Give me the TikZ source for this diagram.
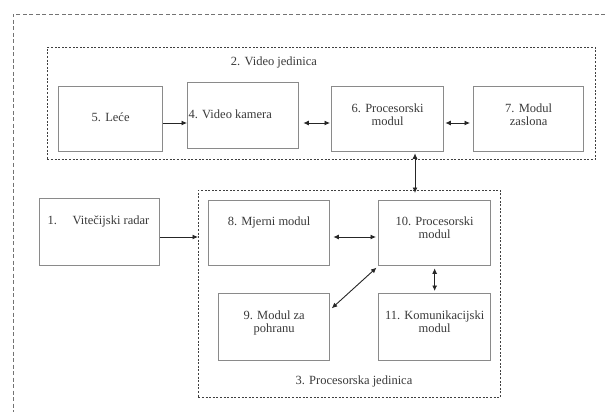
\documentclass[tikz,border=0pt]{standalone}
\usepackage{fontspec}
\setmainfont{Liberation Serif}
\usetikzlibrary{arrows.meta}
\definecolor{boxgray}{HTML}{8A8A8A}
\definecolor{txtgray}{HTML}{3A3A3A}
\newcommand\bxt[4]{\parbox[c][#2pt][t]{#1pt}{\centering\vspace*{#3pt}#4\par}}
\newcommand\bxl[4]{\parbox[c][#2pt][t]{#1pt}{\raggedright\vspace*{#3pt}#4\par}}
\tikzset{
  box/.style={draw=boxgray, line width=1.3pt, inner sep=0pt, anchor=north west, text=txtgray,
    font=\fontsize{12.5pt}{13pt}\selectfont},
  grp/.style={draw=black!75, line width=0.6pt, dash pattern=on 2pt off 1.6pt, inner sep=0pt,
    anchor=north west},
  grplabel/.style={text=txtgray, font=\fontsize{12.5pt}{13pt}\selectfont, inner sep=0pt},
  outerframe/.style={draw=black!55, line width=0.9pt, dash pattern=on 4pt off 2.5pt},
  arr/.style={draw=black!85, line width=0.9pt, -{Latex[length=5.5pt,width=5pt]}},
  darr/.style={draw=black!85, line width=0.9pt, {Latex[length=5.5pt,width=5pt]}-{Latex[length=5.5pt,width=5pt]}}
}
\begin{document}
\begin{tikzpicture}[x=1pt,y=-1pt]
\useasboundingbox (0,0) rectangle (605,412);
\fill[white] (0,0) rectangle (605,412);
% outer frame
\draw[outerframe] (605,14) -- (13,14) -- (13,412);
% groups
\node[grp, minimum width=548pt, minimum height=112pt] (g2) at (47,47) {};
\node[grplabel] (l2) at (274,62) {2. Video jedinica};
\node[grp, minimum width=302pt, minimum height=207pt] (g3) at (198,190) {};
\node[grplabel] (l3) at (354,381) {3. Procesorska jedinica};
% boxes
\node[box] (b5) at (58,86) {\bxt{104}{65}{26.2}{5. Leće}};
\node[box] (b4) at (187,82) {\bxl{111}{66}{27.2}{\hspace*{1pt}4. Video kamera}};
\node[box] (b6) at (331,86) {\bxt{112}{65}{17.2}{6. Procesorski\\modul}};
\node[box] (b7) at (473,86) {\bxt{110}{65}{17.2}{7. Modul\\zaslona}};
\node[box] (b1) at (39,198) {\bxl{120}{67}{17.2}{\hspace*{8pt}\makebox[25pt][l]{1.}Vitečijski radar}};
\node[box] (b8) at (208,200) {\bxt{121}{65}{16.2}{8. Mjerni modul}};
\node[box] (b10) at (378,200) {\bxt{112}{65}{16.2}{10. Procesorski\\modul}};
\node[box] (b9) at (218,293) {\bxt{111}{67}{17.2}{9. Modul za\\pohranu}};
\node[box] (b11) at (378,293) {\bxt{112}{67}{17.2}{11. Komunikacijski\\modul}};
% helper coordinates
\coordinate (r1) at (0,123);
\coordinate (r2) at (0,237);
\coordinate (cv) at (415,0);
% connectors
\draw[arr] (b5.east |- r1) -- (b4.west |- r1);
\draw[darr, shorten <=4pt, shorten >=1pt] (b4.east |- r1) -- (b6.west |- r1);
\draw[darr, shorten <=1pt, shorten >=3pt] (b6.east |- r1) -- (b7.west |- r1);
\draw[darr, shorten <=1pt, shorten >=7pt] (b6.south -| cv) -- (b10.north -| cv);
\draw[arr] (b1.east |- r2) -- (g3.west |- r2);
\draw[darr, shorten <=3pt, shorten >=2pt] (b8.east |- r2) -- (b10.west |- r2);
\draw[darr, shorten <=2pt, shorten >=2pt] (b10.south west) -- ([yshift=17.5pt]b9.east);
\draw[darr, shorten <=2pt, shorten >=2pt] (b10.south) -- (b11.north);
\end{tikzpicture}
\end{document}
